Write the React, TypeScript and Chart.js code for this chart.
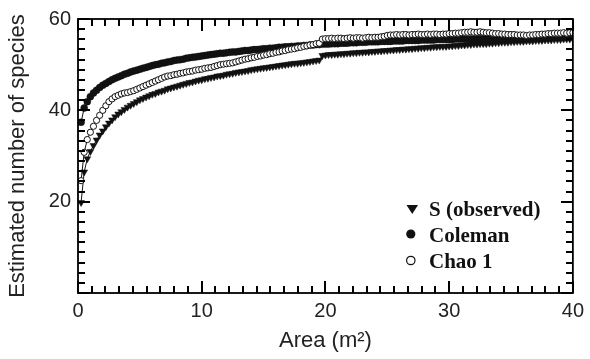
import { useEffect, useRef } from "react";
import { Chart, registerables } from "chart.js";

Chart.register(...registerables);

const AREA = [
  0.25, 0.5, 0.75, 1, 1.25, 1.5, 1.75, 2, 2.25, 2.5, 2.75, 3, 3.25, 3.5, 3.75, 4,
  4.25, 4.5, 4.75, 5, 5.25, 5.5, 5.75, 6, 6.25, 6.5, 6.75, 7, 7.25, 7.5, 7.75, 8,
  8.25, 8.5, 8.75, 9, 9.25, 9.5, 9.75, 10, 10.25, 10.5, 10.75, 11, 11.25, 11.5, 11.75, 12,
  12.25, 12.5, 12.75, 13, 13.25, 13.5, 13.75, 14, 14.25, 14.5, 14.75, 15, 15.25, 15.5, 15.75, 16,
  16.25, 16.5, 16.75, 17, 17.25, 17.5, 17.75, 18, 18.25, 18.5, 18.75, 19, 19.25, 19.5, 19.75, 20,
  20.25, 20.5, 20.75, 21, 21.25, 21.5, 21.75, 22, 22.25, 22.5, 22.75, 23, 23.25, 23.5, 23.75, 24,
  24.25, 24.5, 24.75, 25, 25.25, 25.5, 25.75, 26, 26.25, 26.5, 26.75, 27, 27.25, 27.5, 27.75, 28,
  28.25, 28.5, 28.75, 29, 29.25, 29.5, 29.75, 30, 30.25, 30.5, 30.75, 31, 31.25, 31.5, 31.75, 32,
  32.25, 32.5, 32.75, 33, 33.25, 33.5, 33.75, 34, 34.25, 34.5, 34.75, 35, 35.25, 35.5, 35.75, 36,
  36.25, 36.5, 36.75, 37, 37.25, 37.5, 37.75, 38, 38.25, 38.5, 38.75, 39, 39.25, 39.5, 39.75, 40,
];

const S_OBSERVED = [
  19.8, 26.5, 29.4, 31.0, 32.3, 33.5, 34.6, 35.5, 36.4, 37.2, 37.9, 38.6, 39.2, 39.7, 40.2, 40.7,
  41.1, 41.5, 41.9, 42.3, 42.6, 42.9, 43.2, 43.5, 43.7, 44.0, 44.2, 44.4, 44.7, 44.9, 45.1, 45.3,
  45.5, 45.7, 45.9, 46.1, 46.2, 46.4, 46.6, 46.7, 46.9, 47.0, 47.2, 47.3, 47.5, 47.6, 47.7, 47.9,
  48.0, 48.1, 48.3, 48.4, 48.5, 48.6, 48.7, 48.9, 49.0, 49.1, 49.2, 49.3, 49.4, 49.5, 49.6, 49.7,
  49.8, 49.9, 50.0, 50.1, 50.2, 50.3, 50.3, 50.4, 50.5, 50.6, 50.7, 50.8, 50.9, 51.0, 52.0, 52.1,
  52.2, 52.2, 52.3, 52.3, 52.4, 52.4, 52.5, 52.5, 52.6, 52.6, 52.7, 52.7, 52.8, 52.8, 52.9, 52.9,
  53.0, 53.0, 53.1, 53.1, 53.2, 53.2, 53.3, 53.3, 53.4, 53.4, 53.5, 53.5, 53.6, 53.6, 53.7, 53.7,
  53.8, 53.8, 53.9, 53.9, 54.0, 54.0, 54.0, 54.1, 54.1, 54.2, 54.2, 54.3, 54.3, 54.4, 54.4, 54.5,
  54.5, 54.6, 54.6, 54.6, 54.7, 54.7, 54.8, 54.8, 54.9, 54.9, 54.9, 55.0, 55.0, 55.1, 55.1, 55.1,
  55.2, 55.2, 55.2, 55.3, 55.3, 55.3, 55.4, 55.4, 55.4, 55.5, 55.5, 55.5, 55.6, 55.6, 55.6, 55.7,
];

const COLEMAN = [
  37.4, 40.5, 41.9, 43.0, 43.8, 44.4, 45.0, 45.5, 45.9, 46.3, 46.7, 47.0, 47.3, 47.6, 47.9, 48.1,
  48.4, 48.6, 48.8, 49.0, 49.2, 49.4, 49.6, 49.8, 50.0, 50.1, 50.3, 50.4, 50.6, 50.7, 50.9, 51.0,
  51.1, 51.2, 51.4, 51.5, 51.6, 51.7, 51.8, 51.9, 52.0, 52.1, 52.2, 52.3, 52.4, 52.5, 52.5, 52.6,
  52.7, 52.8, 52.8, 52.9, 53.0, 53.1, 53.1, 53.2, 53.3, 53.3, 53.4, 53.5, 53.5, 53.6, 53.6, 53.7,
  53.8, 53.8, 53.9, 53.9, 54.0, 54.0, 54.1, 54.1, 54.2, 54.2, 54.3, 54.3, 54.4, 54.4, 54.5, 54.5,
  54.5, 54.6, 54.6, 54.6, 54.7, 54.7, 54.7, 54.8, 54.8, 54.8, 54.9, 54.9, 54.9, 55.0, 55.0, 55.0,
  55.0, 55.1, 55.1, 55.1, 55.1, 55.2, 55.2, 55.2, 55.2, 55.3, 55.3, 55.3, 55.3, 55.3, 55.4, 55.4,
  55.4, 55.4, 55.4, 55.5, 55.5, 55.5, 55.5, 55.5, 55.5, 55.6, 55.6, 55.6, 55.6, 55.6, 55.6, 55.6,
  55.7, 55.7, 55.7, 55.7, 55.7, 55.7, 55.7, 55.8, 55.8, 55.8, 55.8, 55.8, 55.8, 55.8, 55.8, 55.9,
  55.9, 55.9, 55.9, 55.9, 55.9, 55.9, 55.9, 56.0, 56.0, 56.0, 56.0, 56.0, 56.0, 56.0, 56.1, 56.1,
];

const CHAO1 = [
  24.6, 30.8, 33.6, 35.2, 36.5, 37.8, 38.9, 40.0, 41.0, 41.9, 42.5, 43.0, 43.3, 43.6, 43.8, 43.9,
  44.1, 44.3, 44.6, 44.9, 45.2, 45.5, 45.8, 46.1, 46.4, 46.7, 47.0, 47.3, 47.5, 47.6, 47.8, 47.9,
  48.1, 48.2, 48.4, 48.5, 48.6, 48.8, 48.9, 49.0, 49.2, 49.3, 49.4, 49.6, 49.8, 50.0, 50.1, 50.2,
  50.3, 50.4, 50.6, 50.8, 51.0, 51.2, 51.3, 51.5, 51.6, 51.8, 51.9, 52.1, 52.2, 52.4, 52.5, 52.7,
  52.8, 53.0, 53.1, 53.3, 53.4, 53.5, 53.7, 53.8, 54.0, 54.1, 54.3, 54.4, 54.6, 54.7, 55.6, 55.7,
  55.7, 55.8, 55.7, 55.8, 55.8, 55.7, 55.8, 55.9, 55.8, 55.9, 55.9, 55.8, 55.9, 56.0, 55.9, 56.0,
  56.0, 56.1, 56.2, 56.4, 56.5, 56.5, 56.6, 56.5, 56.6, 56.6, 56.5, 56.6, 56.6, 56.7, 56.6, 56.6,
  56.7, 56.6, 56.7, 56.7, 56.6, 56.7, 56.7, 56.8, 56.8, 56.9, 56.9, 57.0, 57.1, 57.1, 57.2, 57.1,
  57.1, 57.2, 57.1, 57.0, 57.0, 56.9, 56.8, 56.8, 56.7, 56.7, 56.6, 56.6, 56.6, 56.5, 56.5, 56.5,
  56.4, 56.5, 56.5, 56.6, 56.6, 56.7, 56.7, 56.8, 56.8, 56.9, 56.9, 56.9, 57.0, 56.9, 57.0, 57.0,
];

const SERIES_NAMES = ["S (observed)", "Coleman", "Chao 1"];
const X_TICKS = [0, 10, 20, 30, 40];
const Y_TICKS = [20, 40, 60];
const X_TITLE = "Area (m²)";
const Y_TITLE = "Estimated number of species";

const INK = "#111111";
const SANS = "'Liberation Sans', Arial, sans-serif";
const SERIF = "'Liberation Serif', 'Times New Roman', serif";

const toPoints = (ys: number[]) => AREA.map((x, i) => ({ x, y: ys[i] }));

const frameTicksPlugin = {
  id: "frameTicks",
  afterDraw(chart: any) {
    const ctx = chart.ctx;
    const a = chart.chartArea;
    const xs = chart.scales.x;
    const yScale = chart.scales.y;
    ctx.save();
    ctx.fillStyle = "#000000";
    const w = 2;
    const xMajorStep = 10;
    for (let k = 0; k <= 36; k++) {
      const v = (k * xMajorStep) / 9;
      const len = k % 9 === 0 ? 12 : 7;
      const px = Math.round(xs.getPixelForValue(v));
      ctx.fillRect(px - 1, Math.round(a.bottom) - len, w, len);
      ctx.fillRect(px - 1, Math.round(a.top), w, len);
    }
    const yMajorStep = 20;
    for (let k = 0; k <= 27; k++) {
      const v = (k * yMajorStep) / 9;
      const len = k % 9 === 0 ? 12 : 7;
      const py = Math.round(yScale.getPixelForValue(v));
      ctx.fillRect(Math.round(a.left), py - 1, len, w);
      ctx.fillRect(Math.round(a.right) - len, py - 1, len, w);
    }
    ctx.strokeStyle = "#000000";
    ctx.lineWidth = 1.8;
    ctx.strokeRect(a.left, a.top, a.right - a.left, a.bottom - a.top);
    ctx.restore();
  },
};

const legendPlugin = {
  id: "innerLegend",
  afterDraw(chart: any) {
    const { ctx } = chart;
    ctx.save();
    ctx.fillStyle = INK;
    ctx.strokeStyle = INK;
    ctx.beginPath();
    ctx.moveTo(406.5, 205);
    ctx.lineTo(418, 205);
    ctx.lineTo(412.25, 214);
    ctx.closePath();
    ctx.fill();
    ctx.beginPath();
    ctx.arc(410.8, 234, 4.6, 0, Math.PI * 2);
    ctx.fill();
    ctx.beginPath();
    ctx.lineWidth = 1.2;
    ctx.arc(410.8, 260.5, 4.2, 0, Math.PI * 2);
    ctx.fillStyle = "#fff";
    ctx.fill();
    ctx.stroke();
    ctx.fillStyle = INK;
    ctx.font = `bold 21px ${SERIF}`;
    ctx.textAlign = "left";
    ctx.textBaseline = "alphabetic";
    const ys = [216, 242, 268];
    SERIES_NAMES.forEach((name, i) => ctx.fillText(name, 429, ys[i]));
    ctx.restore();
  },
};

export default function App() {
  const ref = useRef<HTMLCanvasElement | null>(null);

  useEffect(() => {
    document.body.style.margin = "0";
    const canvas = ref.current;
    if (!canvas) return;
    const chart = new Chart(canvas, {
      type: "line",
      data: {
        datasets: [
          {
            label: SERIES_NAMES[0],
            data: toPoints(S_OBSERVED),
            order: 3,
            borderColor: INK,
            borderWidth: 1,
            backgroundColor: INK,
            pointStyle: "triangle",
            rotation: 180,
            pointRadius: 4,
            pointBorderWidth: 0.5,
            pointBackgroundColor: INK,
            pointBorderColor: INK,
            tension: 0,
          },
          {
            label: SERIES_NAMES[1],
            data: toPoints(COLEMAN),
            order: 2,
            borderColor: INK,
            borderWidth: 1,
            backgroundColor: INK,
            pointStyle: "circle",
            pointRadius: 3.5,
            pointBorderWidth: 0.5,
            pointBackgroundColor: INK,
            pointBorderColor: INK,
            tension: 0,
          },
          {
            label: SERIES_NAMES[2],
            data: toPoints(CHAO1),
            order: 1,
            borderColor: INK,
            borderWidth: 1,
            backgroundColor: "#fff",
            pointStyle: "circle",
            pointRadius: 3.1,
            pointBorderWidth: 1,
            pointBackgroundColor: "#fff",
            pointBorderColor: INK,
            tension: 0,
          },
        ],
      },
      options: {
        animation: false,
        responsive: false,
        maintainAspectRatio: false,
        devicePixelRatio: 1,
        layout: { padding: { top: 15, right: 13, left: 0, bottom: 0 } },
        plugins: {
          legend: { display: false },
          tooltip: { enabled: false },
        },
        scales: {
          x: {
            type: "linear",
            min: 0,
            max: 40,
            afterBuildTicks: (s: any) => {
              s.ticks = X_TICKS.map((v) => ({ value: v }));
            },
            afterFit: (s: any) => {
              s.height = 66;
            },
            grid: { display: false, drawTicks: false },
            border: { display: false },
            ticks: {
              padding: 6,
              color: "#222",
              autoSkip: false,
              maxRotation: 0,
              font: { family: SANS, size: 20 },
            },
            title: {
              display: true,
              text: X_TITLE,
              color: "#222",
              font: { family: SANS, size: 22 },
              padding: { top: 0, bottom: 5 },
            },
          },
          y: {
            type: "linear",
            min: 0,
            max: 60,
            afterBuildTicks: (s: any) => {
              s.ticks = Y_TICKS.map((v) => ({ value: v }));
            },
            afterFit: (s: any) => {
              s.width = 78;
            },
            grid: { display: false, drawTicks: false },
            border: { display: false },
            ticks: {
              padding: 7,
              color: "#222",
              autoSkip: false,
              font: { family: SANS, size: 20 },
            },
            title: {
              display: true,
              text: Y_TITLE,
              color: "#222",
              font: { family: SANS, size: 22 },
              padding: { top: 5, bottom: 0 },
            },
          },
        },
      },
      plugins: [frameTicksPlugin, legendPlugin],
    });
    return () => chart.destroy();
  }, []);

  return (
    <div style={{ width: 590, height: 359, background: "#fff" }}>
      <canvas ref={ref} width={590} height={359} style={{ display: "block", width: 590, height: 359 }} />
    </div>
  );
}
